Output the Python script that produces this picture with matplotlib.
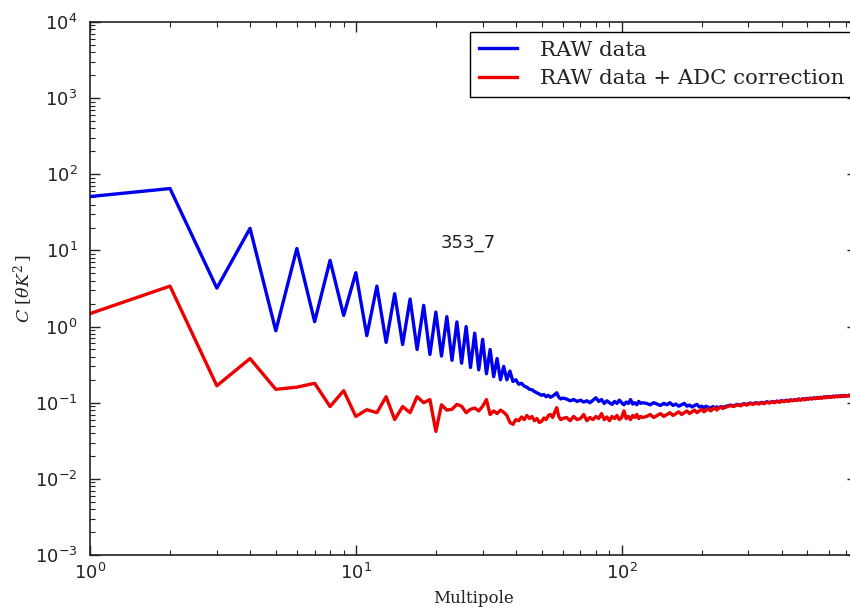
import matplotlib
matplotlib.use("Agg")
import matplotlib.pyplot as plt
import numpy as np

# multipoles: every l up to 60, then coarser steps
ell_low = np.arange(1, 61)
ell_mid = np.arange(62, 122, 2)
ell_hi = np.arange(124, 244, 4)
ell_top = np.arange(248, 776, 8)

raw_low = [51, 65, 3.2, 19.5, 0.88, 10.6, 1.16, 7.4, 1.4, 5.1,
           0.76, 3.4, 0.62, 2.7, 0.58, 2.3, 0.5, 1.9, 0.43, 1.55,
           0.41, 1.35, 0.36, 1.15, 0.33, 1.0, 0.29, 0.82, 0.27, 0.68,
           0.24, 0.5, 0.22, 0.38, 0.2, 0.3, 0.2, 0.26, 0.19, 0.2,
           0.175, 0.18, 0.165, 0.16, 0.15, 0.148, 0.14, 0.135, 0.13, 0.125,
           0.128, 0.12, 0.125, 0.118, 0.122, 0.128, 0.135, 0.118, 0.112, 0.115]
raw_mid = [0.112, 0.106, 0.11, 0.104, 0.108, 0.102, 0.106, 0.1, 0.108, 0.116,
           0.104, 0.11, 0.098, 0.106, 0.1, 0.095, 0.104, 0.098, 0.108, 0.1,
           0.094, 0.102, 0.098, 0.11, 0.096, 0.1, 0.094, 0.104, 0.098, 0.1]
raw_hi = [0.098, 0.094, 0.1, 0.096, 0.092, 0.098, 0.094, 0.1, 0.092, 0.096,
          0.09, 0.094, 0.098, 0.09, 0.093, 0.088, 0.092, 0.095, 0.088, 0.09,
          0.086, 0.09, 0.087, 0.084, 0.089, 0.086, 0.088, 0.085, 0.089, 0.087]
raw_top = [0.09, 0.093, 0.091, 0.095, 0.093, 0.097, 0.095, 0.099, 0.097, 0.1,
           0.098, 0.101, 0.099, 0.103, 0.1, 0.104, 0.102, 0.105, 0.103, 0.107,
           0.104, 0.108, 0.106, 0.109, 0.107, 0.11, 0.108, 0.112, 0.109, 0.113,
           0.11, 0.114, 0.112, 0.115, 0.113, 0.116, 0.114, 0.117, 0.115, 0.118,
           0.116, 0.119, 0.117, 0.12, 0.118, 0.121, 0.119, 0.122, 0.12, 0.122,
           0.12, 0.123, 0.121, 0.124, 0.122, 0.125, 0.122, 0.124, 0.123, 0.126,
           0.123, 0.126, 0.124, 0.127, 0.125, 0.126]

adc_low = [1.48, 3.4, 0.167, 0.38, 0.15, 0.16, 0.18, 0.089, 0.144, 0.066,
           0.081, 0.074, 0.12, 0.06, 0.089, 0.074, 0.12, 0.1, 0.11, 0.042,
           0.094, 0.08, 0.082, 0.095, 0.09, 0.074, 0.082, 0.085, 0.078, 0.09,
           0.11, 0.07, 0.078, 0.072, 0.08, 0.075, 0.068, 0.055, 0.052, 0.06,
           0.058, 0.065, 0.06, 0.068, 0.062, 0.066, 0.058, 0.062, 0.055, 0.057,
           0.063, 0.06, 0.068, 0.07, 0.064, 0.075, 0.086, 0.066, 0.06, 0.062]
adc_mid = [0.064, 0.058, 0.066, 0.06, 0.062, 0.07, 0.058, 0.064, 0.06, 0.066,
           0.062, 0.072, 0.06, 0.065, 0.058, 0.066, 0.062, 0.068, 0.06, 0.064,
           0.078, 0.062, 0.066, 0.06, 0.068, 0.064, 0.07, 0.062, 0.066, 0.064]
adc_hi = [0.066, 0.07, 0.064, 0.068, 0.072, 0.066, 0.07, 0.074, 0.068, 0.072,
          0.076, 0.07, 0.074, 0.078, 0.072, 0.076, 0.08, 0.074, 0.078, 0.082,
          0.076, 0.08, 0.084, 0.078, 0.082, 0.086, 0.08, 0.085, 0.088, 0.084]
adc_top = [0.088, 0.092, 0.089, 0.094, 0.091, 0.096, 0.093, 0.098, 0.095, 0.099,
           0.096, 0.1, 0.097, 0.102, 0.099, 0.103, 0.1, 0.104, 0.101, 0.106,
           0.103, 0.107, 0.104, 0.108, 0.106, 0.109, 0.107, 0.111, 0.108, 0.112,
           0.109, 0.113, 0.111, 0.114, 0.112, 0.115, 0.113, 0.116, 0.114, 0.117,
           0.115, 0.118, 0.116, 0.119, 0.117, 0.12, 0.118, 0.121, 0.119, 0.122,
           0.12, 0.122, 0.12, 0.123, 0.121, 0.124, 0.122, 0.124, 0.123, 0.125,
           0.122, 0.125, 0.123, 0.126, 0.124, 0.126]

ell = np.concatenate([ell_low, ell_mid, ell_hi, ell_top])
raw = np.concatenate([raw_low, raw_mid, raw_hi, raw_top])
adc = np.concatenate([adc_low, adc_mid, adc_hi, adc_top])

plt.rcParams["font.family"] = ["DejaVu Sans"]
dark = "#222222"

fig = plt.figure(figsize=(8.5, 6.1), dpi=100)
# axes runs a little past the right edge of the canvas, like the source image
ax = fig.add_axes([90 / 850, 55 / 610, 767 / 850, 533 / 610])

ax.plot(ell, raw, color="#0000ee", lw=2.4, label="RAW data")
ax.plot(ell, adc, color="#ee0000", lw=2.4, label="RAW data + ADC correction")

ax.set_xscale("log")
ax.set_yscale("log")
ax.set_xlim(1, 768)
ax.set_ylim(1e-3, 1e4)

for s in ax.spines.values():
    s.set_color(dark)
    s.set_linewidth(1.2)
ax.tick_params(which="both", direction="in", top=True, right=True, colors=dark)
ax.tick_params(which="major", length=7, width=1, labelsize=13)
ax.tick_params(axis="y", which="major", pad=9)
ax.tick_params(axis="x", which="major", pad=6)
ax.tick_params(which="minor", length=3.5, width=0.8)

ax.set_xlabel("Multipole", family="DejaVu Serif", fontsize=12, color=dark, labelpad=5)
ax.set_ylabel(r"$C\ [\theta K^2\,]$", fontsize=12.5, color=dark, math_fontfamily="dejavuserif")
ax.yaxis.set_label_coords(-0.072, 0.5)

ax.text(0.493, 0.585, "353_7", transform=ax.transAxes, ha="center", va="center",
        fontsize=13, color=dark)

leg = ax.legend(loc="upper left", bbox_to_anchor=(470 / 850, 1 - 32 / 610),
                bbox_transform=fig.transFigure, borderaxespad=0, fancybox=False,
                framealpha=1, edgecolor="black", handlelength=1.8, handletextpad=1.1,
                labelspacing=0.45, borderpad=0.4,
                prop={"family": "DejaVu Serif", "size": 15.3})
leg.get_frame().set_linewidth(1.0)
for t in leg.get_texts():
    t.set_color(dark)

fig.savefig("out.png", dpi=100)
